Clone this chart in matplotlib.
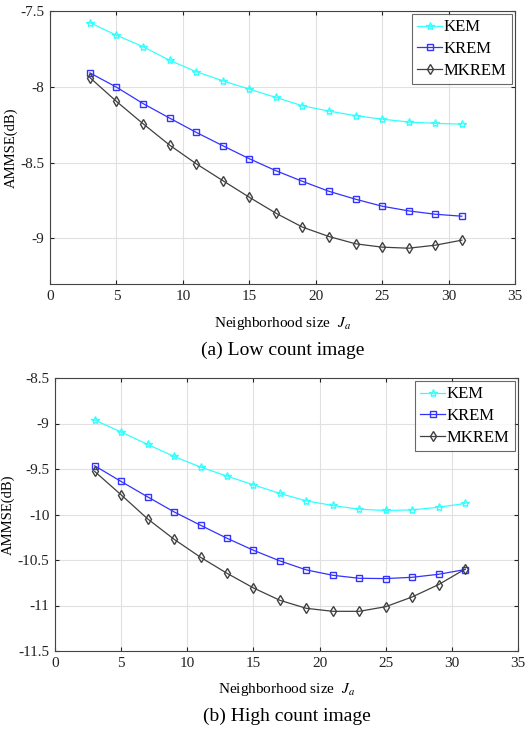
import numpy as np
import matplotlib
matplotlib.use("Agg")
import matplotlib.pyplot as plt

plt.rcParams['font.family'] = ['Liberation Serif', 'DejaVu Serif']
plt.rcParams['mathtext.fontset'] = 'stix'

# Neighborhood sizes
ja = [3, 5, 7, 9, 11, 13, 15, 17, 19, 21, 23, 25, 27, 29, 31]

# (a) Low count image
low_kem = [-7.577, -7.66, -7.735, -7.825, -7.90, -7.96, -8.015, -8.07, -8.125,
           -8.16, -8.19, -8.213, -8.232, -8.241, -8.246]
low_krem = [-7.908, -8.002, -8.11, -8.206, -8.30, -8.388, -8.474, -8.553, -8.623,
            -8.689, -8.741, -8.787, -8.818, -8.84, -8.853]
low_mkrem = [-7.939, -8.096, -8.243, -8.384, -8.507, -8.618, -8.728, -8.833, -8.925,
             -8.987, -9.035, -9.057, -9.064, -9.044, -9.011]

# (b) High count image
high_kem = [-8.962, -9.094, -9.23, -9.362, -9.479, -9.578, -9.674, -9.769, -9.85,
            -9.901, -9.942, -9.956, -9.949, -9.92, -9.879]
high_krem = [-9.465, -9.637, -9.806, -9.971, -10.118, -10.261, -10.393, -10.51, -10.609,
             -10.668, -10.701, -10.704, -10.69, -10.657, -10.605]
high_mkrem = [-9.527, -9.784, -10.048, -10.272, -10.47, -10.646, -10.807, -10.943, -11.031,
              -11.064, -11.064, -11.013, -10.906, -10.77, -10.60]

series_names = ['KEM', 'KREM', 'MKREM']
x_ticks = [0, 5, 10, 15, 20, 25, 30, 35]

W, H = 526, 732
fig = plt.figure(figsize=(W / 100, H / 100), dpi=100)


def px_axes(left, top, right, bottom):
    return fig.add_axes([left / W, 1 - bottom / H, (right - left) / W, (bottom - top) / H])


def draw_panel(ax, kem, krem, mkrem, ylim, yticks, caption, cap_y, xlab_y):
    ax.plot(ja, kem, color='#33ffff', marker='*', markersize=6, mfc='none',
            mec='#33ffff', lw=0.9, label=series_names[0])
    ax.plot(ja, krem, color='#3333ff', marker='s', markersize=4.5, mfc='none',
            mec='#3333ff', lw=0.9, label=series_names[1])
    ax.plot(ja, mkrem, color='#404040', marker='d', markersize=5, mfc='none',
            mec='#404040', lw=0.9, label=series_names[2])
    ax.set_xlim(0, 35)
    ax.set_ylim(*ylim)
    ax.set_xticks(x_ticks)
    ax.set_yticks(yticks)
    ax.set_yticklabels([f'{t:g}' for t in yticks])
    ax.grid(True, color='#e0e0e0', lw=0.8)
    ax.set_axisbelow(True)
    ax.tick_params(direction='in', top=True, right=True, labelsize=11, length=3,
                   pad=4, colors='#222222')
    for s in ax.spines.values():
        s.set_color('#444444')
        s.set_linewidth(0.8)
    ax.set_ylabel('AMMSE(dB)', fontsize=10.5, labelpad=2)
    leg = ax.legend(loc='upper right', fontsize=12, frameon=True, fancybox=False,
                    handlelength=1.5, handletextpad=0.1, borderpad=0.3,
                    labelspacing=0.35, borderaxespad=0.2)
    leg.get_frame().set_edgecolor('#444444')
    leg.get_frame().set_linewidth(0.8)
    fig.text(0.5 * (ax.get_position().x0 + ax.get_position().x1), 1 - xlab_y / H,
             r'Neighborhood size  $J_a$', ha='center', va='center', fontsize=11)
    fig.text(0.5 * (ax.get_position().x0 + ax.get_position().x1), 1 - cap_y / H,
             caption, ha='center', va='center', fontsize=14)


ax1 = px_axes(50, 11, 515, 284)
draw_panel(ax1, low_kem, low_krem, low_mkrem, (-9.3, -7.5), [-9, -8.5, -8, -7.5],
           '(a) Low count image', 350, 323)

ax2 = px_axes(55, 378, 518, 651)
draw_panel(ax2, high_kem, high_krem, high_mkrem, (-11.5, -8.5),
           [-11.5, -11, -10.5, -10, -9.5, -9, -8.5],
           '(b) High count image', 716, 689)

fig.savefig('out.png', dpi=100)
